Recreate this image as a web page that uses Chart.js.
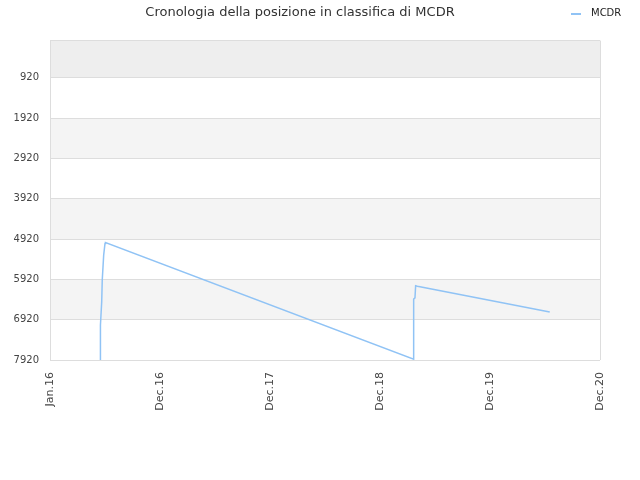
<!DOCTYPE html>
<html lang="it">
<head>
    <meta charset="UTF-8">
    <title>Cronologia della posizione in classifica di MCDR</title>
    <script src="https://cdn.jsdelivr.net/npm/chart.js"></script>
    <style>
        html, body { margin: 0; padding: 0; background: #fff; }
        #wrap { width: 640px; height: 480px; }
    </style>
</head>
<body>
    <div id="wrap"><canvas id="rankChart"></canvas></div>

    <script>
        // x tick labels (one unit per label on the axis)
        const xLabels = ['Jan.16', 'Dec.16', 'Dec.17', 'Dec.18', 'Dec.19', 'Dec.20'];
        const yTicks = [0, 920, 1920, 2920, 3920, 4920, 5920, 6920, 7920];

        // series: position along axis, rank
        const mcdrX = [0.455, 0.455, 0.462, 0.470, 0.475, 0.488, 0.500, 0.505, 3.306, 3.306, 3.318, 3.324, 3.340, 4.543];
        const mcdrRank = [7920, 7630, 7050, 6480, 5940, 5320, 5030, 5010, 7900, 6410, 6380, 6080, 6090, 6730];

        const FONT = 'DejaVu Sans';

        // shaded bands between the y ticks
        const bands = {
            id: 'bands',
            beforeDraw(chart) {
                const { ctx, chartArea: a, scales: { y } } = chart;
                ctx.save();
                for (let i = 0; i < yTicks.length - 1; i++) {
                    let fill = null;
                    if (i === 0) fill = '#eeeeee';
                    else if (i % 2 === 0) fill = '#f4f4f4';
                    if (!fill) continue;
                    const top = y.getPixelForValue(yTicks[i]);
                    const bot = y.getPixelForValue(yTicks[i + 1]);
                    ctx.fillStyle = fill;
                    ctx.fillRect(a.left, top, a.right - a.left, bot - top);
                }
                ctx.restore();
            },
            afterDraw(chart) {
                // small legend at the top right
                const ctx = chart.ctx;
                ctx.save();
                ctx.strokeStyle = '#90c3f5';
                ctx.lineWidth = 2;
                ctx.beginPath();
                ctx.moveTo(571, 14);
                ctx.lineTo(581, 14);
                ctx.stroke();
                ctx.fillStyle = '#222';
                ctx.font = '10px "' + FONT + '"';
                ctx.textBaseline = 'middle';
                ctx.fillText('MCDR', 591, 13);
                ctx.restore();
            }
        };

        new Chart(document.getElementById('rankChart'), {
            type: 'line',
            data: {
                datasets: [{
                    label: 'MCDR',
                    data: mcdrX.map((x, i) => ({ x: x, y: mcdrRank[i] })),
                    borderColor: '#90c3f5',
                    borderWidth: 1.5,
                    pointRadius: 0,
                    tension: 0,
                    fill: false
                }]
            },
            options: {
                responsive: true,
                maintainAspectRatio: false,
                animation: false,
                layout: { padding: { left: 0, right: 40, top: 0, bottom: 0 } },
                plugins: {
                    legend: { display: false },
                    tooltip: { enabled: false },
                    title: {
                        display: true,
                        text: 'Cronologia della posizione in classifica di MCDR',
                        color: '#333',
                        font: { family: FONT, size: 13, weight: 'normal' },
                        padding: { top: 5, bottom: 20 }
                    }
                },
                scales: {
                    x: {
                        type: 'linear',
                        min: 0,
                        max: xLabels.length - 1,
                        afterBuildTicks: s => { s.ticks = xLabels.map((_, i) => ({ value: i })); },
                        afterFit: s => { s.height = 120; },
                        ticks: {
                            callback: v => xLabels[v],
                            maxRotation: 90,
                            minRotation: 90,
                            autoSkip: false,
                            padding: 12,
                            color: '#444',
                            font: { family: FONT, size: 11 }
                        },
                        grid: {
                            drawTicks: false,
                            color: c => (c.index === 0 || c.index === xLabels.length - 1) ? '#dddddd' : 'rgba(0,0,0,0)'
                        },
                        border: { display: false }
                    },
                    y: {
                        reverse: true,
                        min: 0,
                        max: 7920,
                        afterBuildTicks: s => { s.ticks = yTicks.map(v => ({ value: v })); },
                        afterFit: s => { s.width = 50; },
                        ticks: {
                            callback: v => v === 0 ? '' : String(v),
                            padding: 11,
                            color: '#444',
                            font: { family: FONT, size: 10 }
                        },
                        grid: { drawTicks: false, color: '#dddddd' },
                        border: { display: false }
                    }
                }
            },
            plugins: [bands]
        });
    </script>
</body>
</html>
